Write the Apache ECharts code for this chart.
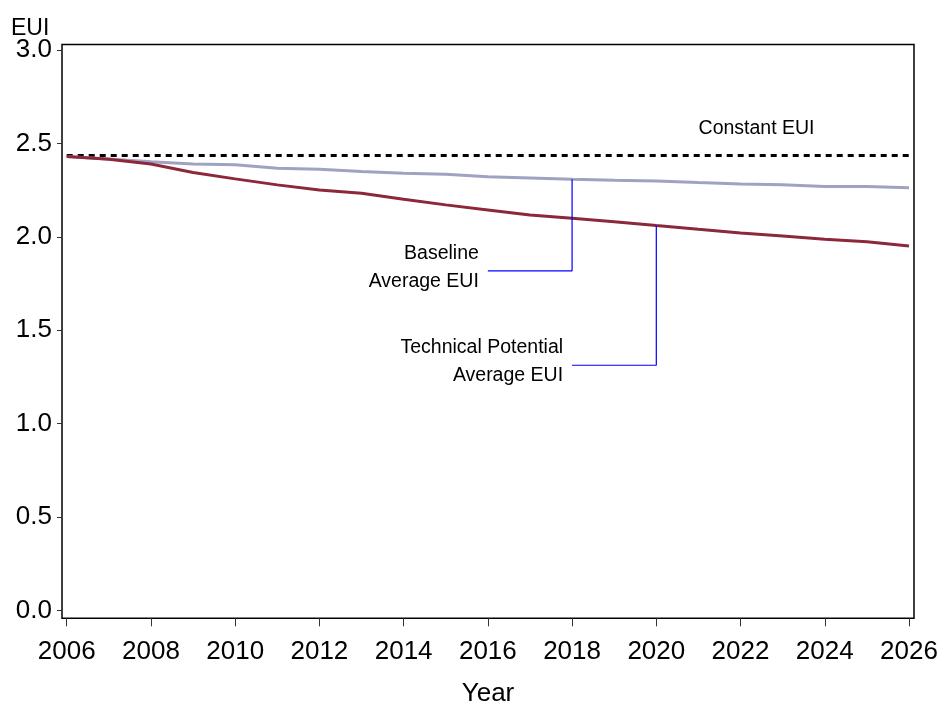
<!DOCTYPE html>
<html>
<head>
<meta charset="utf-8">
<title>EUI</title>
<script src="https://cdn.jsdelivr.net/npm/echarts@6/dist/echarts.min.js"></script>
<style>
  html, body {
    margin: 0;
    padding: 0;
    background: #fff;
  }
  #chart {
    width: 940px;
    height: 704px;
  }
</style>
</head>
<body>
<div id="chart"></div>
<script>
var years = [2006, 2007, 2008, 2009, 2010, 2011, 2012, 2013, 2014, 2015, 2016,
  2017, 2018, 2019, 2020, 2021, 2022, 2023, 2024, 2025, 2026]
var baseline = [2.43, 2.417, 2.402, 2.39, 2.385, 2.367, 2.362, 2.349, 2.34, 2.335, 2.322,
  2.315, 2.308, 2.303, 2.299, 2.29, 2.283, 2.278, 2.269, 2.269, 2.262]
var technical = [2.43, 2.415, 2.39, 2.344, 2.31, 2.278, 2.251, 2.233, 2.201, 2.171, 2.144,
  2.117, 2.099, 2.081, 2.06, 2.04, 2.021, 2.005, 1.987, 1.974, 1.951]
var constYears = [2006, 2026]
var constantEui = [2.435, 2.435]
var xTicks = [2006, 2008, 2010, 2012, 2014, 2016, 2018, 2020, 2022, 2024, 2026]
var yTicks = [0, 0.5, 1, 1.5, 2, 2.5, 3]

var font = 'Liberation Sans, Arial, sans-serif'

function pairs(xs, ys) {
  return xs.map(function(x, i) {
    return [x, ys[i]]
  })
}

// leader lines from the curves down to the text labels
var baseIdx = years.indexOf(2018)
var techIdx = years.indexOf(2020)
var baseLeader = [[2018, baseline[baseIdx]], [2018, 1.818], [2016, 1.818]]
var techLeader = [[2020, technical[techIdx]], [2020, 1.313], [2018, 1.313]]

var chart = echarts.init(document.getElementById('chart'))

var option = {
  animation: false,
  textStyle: { fontFamily: font },
  title: {
    text: 'EUI',
    left: 6,
    top: 12,
    textStyle: { fontFamily: font, fontSize: 23, fontWeight: 'normal', color: '#000' }
  },
  grid: {
    left: 62,
    right: 26,
    top: 44.5,
    bottom: 85.7,
    outerBoundsMode: 'none',
    containLabel: false,
    show: true,
    borderColor: '#000',
    borderWidth: 1.5,
    backgroundColor: 'transparent'
  },
  xAxis: {
    type: 'value',
    min: 2005.888,
    max: 2026.119,
    axisLine: { show: false, onZero: false },
    axisTick: { show: true, length: 8, customValues: xTicks, lineStyle: { color: '#333', width: 1 } },
    splitLine: { show: false },
    axisLabel: {
      customValues: xTicks,
      margin: 21,
      fontSize: 26,
      color: '#000',
      fontFamily: font,
      formatter: function(v) { return String(v) }
    },
    name: 'Year',
    nameLocation: 'middle',
    nameGap: 63,
    nameTextStyle: { fontSize: 26, color: '#000', fontFamily: font }
  },
  yAxis: {
    type: 'value',
    min: -0.041,
    max: 3.029,
    axisLine: { show: false, onZero: false },
    axisTick: { show: true, length: 5, customValues: yTicks, lineStyle: { color: '#333', width: 1 } },
    splitLine: { show: false },
    axisLabel: {
      customValues: yTicks,
      margin: 10,
      fontSize: 26,
      color: '#000',
      fontFamily: font,
      formatter: function(v) { return v.toFixed(1) }
    }
  },
  series: [
    {
      name: 'Constant EUI',
      type: 'line',
      data: pairs(constYears, constantEui),
      symbol: 'none',
      lineStyle: { color: '#000', width: 3, type: [6, 5] },
      markPoint: {
        symbol: 'circle',
        symbolSize: 0,
        label: {
          show: true,
          position: 'inside',
          fontSize: 19.5,
          color: '#000',
          fontFamily: font
        },
        data: [{ coord: [2022.38, 2.58], label: { formatter: 'Constant EUI' } }]
      }
    },
    {
      name: 'Baseline Average EUI',
      type: 'line',
      data: pairs(years, baseline),
      symbol: 'none',
      lineStyle: { color: '#9fa2c0', width: 3 }
    },
    {
      name: 'Technical Potential Average EUI',
      type: 'line',
      data: pairs(years, technical),
      symbol: 'none',
      lineStyle: { color: '#8c2839', width: 3 }
    },
    {
      type: 'line',
      data: baseLeader,
      symbol: 'none',
      lineStyle: { color: '#0000ff', width: 1.2 },
      markPoint: {
        symbol: 'circle',
        symbolSize: 0,
        label: {
          show: true,
          position: 'left',
          distance: 9,
          fontSize: 19.5,
          lineHeight: 28,
          color: '#000',
          fontFamily: font
        },
        data: [{ coord: [2016, 1.835], label: { formatter: 'Baseline\nAverage EUI' } }]
      }
    },
    {
      type: 'line',
      data: techLeader,
      symbol: 'none',
      lineStyle: { color: '#0000ff', width: 1.2 },
      markPoint: {
        symbol: 'circle',
        symbolSize: 0,
        label: {
          show: true,
          position: 'left',
          distance: 9,
          fontSize: 19.5,
          lineHeight: 28,
          color: '#000',
          fontFamily: font
        },
        data: [{ coord: [2018, 1.333], label: { formatter: 'Technical Potential\nAverage EUI' } }]
      }
    }
  ]
}

chart.setOption(option)
</script>
</body>
</html>
